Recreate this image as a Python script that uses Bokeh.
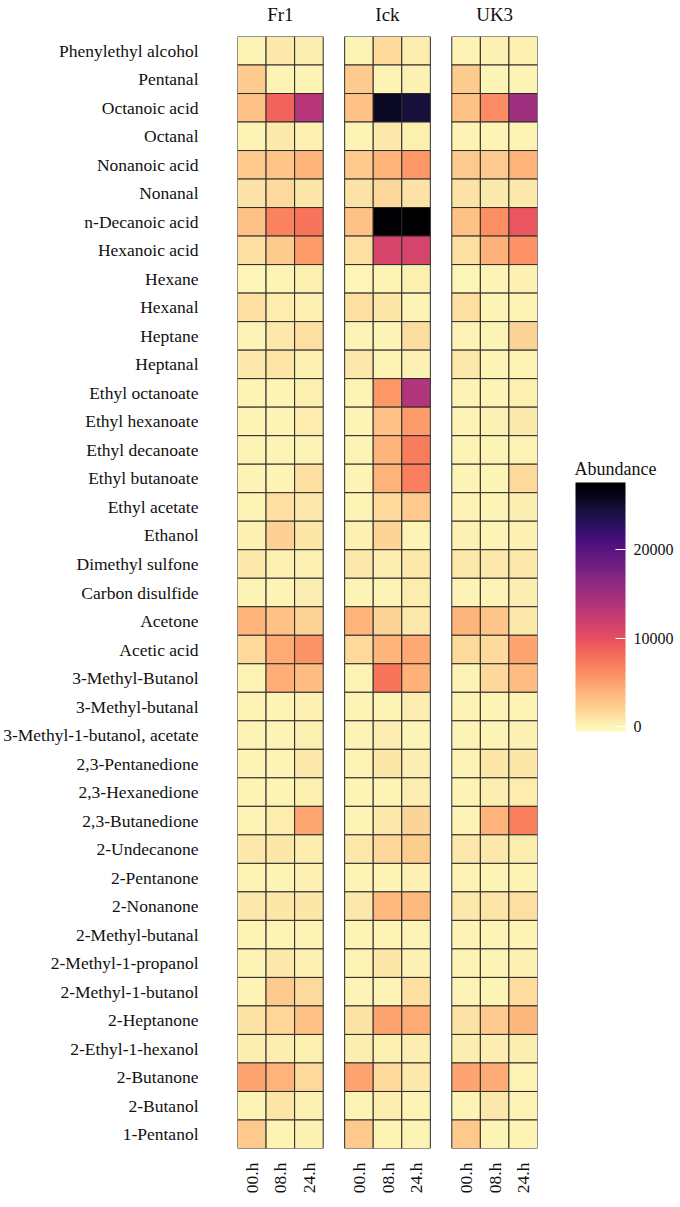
import math
from bokeh.plotting import figure
from bokeh.models import (FactorRange, ColumnDataSource, LinearColorMapper, ColorBar,
                          FixedTicker, CategoricalAxis)
from bokeh.palettes import Magma256
from bokeh.transform import transform
from bokeh.embed import file_html
from bokeh.resources import INLINE

compounds = [
    "Phenylethyl alcohol", "Pentanal", "Octanoic acid", "Octanal", "Nonanoic acid",
    "Nonanal", "n-Decanoic acid", "Hexanoic acid", "Hexane", "Hexanal", "Heptane",
    "Heptanal", "Ethyl octanoate", "Ethyl hexanoate", "Ethyl decanoate",
    "Ethyl butanoate", "Ethyl acetate", "Ethanol", "Dimethyl sulfone",
    "Carbon disulfide", "Acetone", "Acetic acid", "3-Methyl-Butanol",
    "3-Methyl-butanal", "3-Methyl-1-butanol, acetate", "2,3-Pentanedione",
    "2,3-Hexanedione", "2,3-Butanedione", "2-Undecanone", "2-Pentanone",
    "2-Nonanone", "2-Methyl-butanal", "2-Methyl-1-propanol", "2-Methyl-1-butanol",
    "2-Heptanone", "2-Ethyl-1-hexanol", "2-Butanone", "2-Butanol", "1-Pentanol",
]
strains = ["Fr1", "Ick", "UK3"]
times = ["00.h", "08.h", "24.h"]
legend_title = "Abundance"
legend_ticks = [0, 10000, 20000]

# abundance per compound (same order as compounds)
h00 = [100, 2500, 3000, 100, 2600, 1100, 3000, 1300, 0, 1300, 100, 700, 100, 100, 100,
       100, 100, 200, 700, 100, 3800, 1600, 100, 100, 100, 100, 100, 100, 700, 100,
       700, 100, 100, 100, 1100, 400, 4800, 100, 2600]
fr1_08 = [700, 100, 8600, 600, 2900, 1600, 6800, 2500, 100, 500, 700, 1000, 100, 100, 100,
          100, 1300, 2200, 200, 100, 3000, 4500, 4300, 100, 100, 100, 100, 500, 800, 100,
          800, 100, 700, 2600, 1800, 400, 3900, 1000, 100]
fr1_24 = [400, 100, 13500, 200, 3800, 800, 7600, 5400, 300, 200, 1300, 200, 300, 500, 100,
          1300, 700, 800, 200, 400, 2100, 5800, 3300, 200, 300, 700, 300, 4700, 500, 200,
          800, 100, 200, 1600, 3100, 300, 1600, 200, 200]
ick_08 = [1600, 100, 25800, 700, 3900, 1700, 27590, 11300, 50, 900, 100, 100, 5600, 3200, 3800,
          3900, 1600, 2000, 400, 100, 2000, 3800, 7600, 100, 400, 800, 100, 700, 1700, 100,
          3600, 100, 800, 100, 4800, 300, 1600, 500, 100]
ick_24 = [500, 200, 24500, 300, 5600, 1100, 27590, 11300, 300, 100, 1400, 200, 13800, 5300, 7100,
          7000, 2600, 100, 700, 500, 700, 4600, 4000, 400, 100, 400, 400, 1900, 2400, 200,
          3600, 100, 200, 1300, 4500, 400, 700, 100, 100]
uk3_08 = [200, 100, 6200, 100, 2600, 600, 6000, 4000, 50, 100, 100, 100, 100, 200, 100,
          100, 100, 100, 700, 100, 2900, 1600, 1700, 100, 100, 800, 400, 3900, 700, 100,
          1000, 100, 100, 100, 2600, 400, 4400, 700, 100]
uk3_24 = [300, 100, 15000, 100, 3900, 700, 9600, 5900, 150, 100, 1900, 100, 300, 600, 100,
          1600, 400, 200, 700, 400, 700, 4800, 3300, 100, 200, 800, 500, 7000, 500, 100,
          1300, 100, 200, 1500, 3700, 400, 100, 100, 100]

series = {
    ("Fr1", "00.h"): h00, ("Fr1", "08.h"): fr1_08, ("Fr1", "24.h"): fr1_24,
    ("Ick", "00.h"): h00, ("Ick", "08.h"): ick_08, ("Ick", "24.h"): ick_24,
    ("UK3", "00.h"): h00, ("UK3", "08.h"): uk3_08, ("UK3", "24.h"): uk3_24,
}

xs, ys, vals = [], [], []
for key, arr in series.items():
    for c, v in zip(compounds, arr):
        xs.append(key)
        ys.append(c)
        vals.append(v)
src = ColumnDataSource(dict(x=xs, y=ys, v=vals))

FONT = "Liberation Serif"
GAP = 0.75
factors = [(s, t) for s in strains for t in times]
x_range = FactorRange(*factors, group_padding=GAP, factor_padding=0, range_padding=0)
y_range = FactorRange(*list(reversed(compounds)), range_padding=0)

mapper = LinearColorMapper(palette=list(reversed(Magma256)), low=-520, high=27590)

p = figure(x_range=x_range, y_range=y_range, frame_width=300, frame_height=1112,
           output_backend="svg", toolbar_location=None,
           min_border_left=228, min_border_top=28, min_border_right=140, min_border_bottom=0,
           x_axis_location="below")
p.outline_line_color = None
p.grid.grid_line_color = None

p.rect(x="x", y="y", width=1, height=1, source=src,
       fill_color=transform("v", mapper), line_color="#2b2b2b", line_width=1)

# bottom axis
xa = p.xaxis[0]
xa.major_label_orientation = math.pi / 2
xa.major_label_text_font = FONT
xa.major_label_text_font_size = "17.5px"
xa.major_label_text_color = "#111111"
xa.major_label_standoff = 8
xa.group_text_font_size = "0px"
xa.group_text_color = None
xa.separator_line_color = None
xa.axis_line_color = None
xa.major_tick_line_color = None
xa.minor_tick_line_color = None

# left axis
ya = p.yaxis[0]
ya.major_label_text_font = FONT
ya.major_label_text_font_size = "17.5px"
ya.major_label_text_color = "#111111"
ya.major_label_standoff = 33
ya.axis_line_color = None
ya.major_tick_line_color = None
ya.minor_tick_line_color = None

# strip titles on top
p.extra_x_ranges = {"top": FactorRange(*strains, factor_padding=GAP / 3, range_padding=0)}
ta = CategoricalAxis(x_range_name="top")
ta.major_label_text_font = FONT
ta.major_label_text_font_size = "19px"
ta.major_label_text_color = "#111111"
ta.major_label_standoff = 6
ta.axis_line_color = None
ta.major_tick_line_color = None
ta.minor_tick_line_color = None
p.add_layout(ta, "above")

# legend title, placed with a categorical right axis (blank slots set its height)
slots = [" " * (i + 1) for i in range(5)] + [legend_title] + [" " * (i + 6) for i in range(3)]
p.extra_y_ranges = {"legend": FactorRange(*slots, range_padding=0)}
ra = CategoricalAxis(y_range_name="legend")
ra.major_label_text_font = FONT
ra.major_label_text_font_size = "18px"
ra.major_label_text_color = "#111111"
ra.major_label_standoff = 31
ra.axis_line_color = None
ra.major_tick_line_color = None
ra.minor_tick_line_color = None
p.add_layout(ra, "right")

cb = ColorBar(color_mapper=mapper, ticker=FixedTicker(ticks=legend_ticks),
              width=50, height=249, location=(338, 417), orientation="vertical",
              major_label_text_font=FONT, major_label_text_font_size="16px",
              major_label_text_color="#111111", label_standoff=8,
              major_tick_in=10, major_tick_out=0, major_tick_line_color="white",
              minor_tick_line_color=None, bar_line_color=None,
              padding=0, margin=0, border_line_color=None, background_fill_color=None)
p.add_layout(cb, "center")

open("out.html", "w").write(file_html(p, INLINE))
